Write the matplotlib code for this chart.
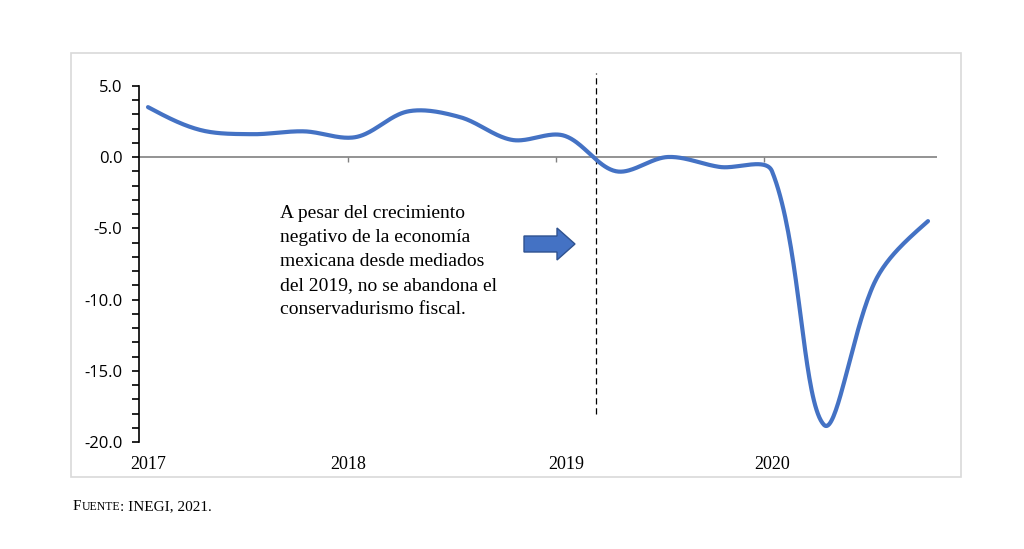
import numpy as np
import matplotlib.pyplot as plt
from matplotlib.patches import FancyArrow, Rectangle

# Crecimiento del PIB (variación anual %, trimestral)
quarters = ["2017Q1", "2017Q2", "2017Q3", "2017Q4",
            "2018Q1", "2018Q2", "2018Q3", "2018Q4",
            "2019Q1", "2019Q2", "2019Q3", "2019Q4",
            "2020Q1", "2020Q2", "2020Q3", "2020Q4"]
gdp_growth = [3.5, 1.9, 1.6, 1.8,
              1.4, 3.2, 2.8, 1.2,
              1.5, -1.0, 0.0, -0.7,
              -1.0, -18.8, -8.6, -4.5]
year_labels = ["2017", "2018", "2019", "2020"]
year_label_pos = [0, 3.85, 8.05, 12.0]
year_tick_pos = [3.85, 7.85, 11.85]
event_x = 8.62  # mediados de 2019
note = ("A pesar del crecimiento\nnegativo de la economía\nmexicana desde mediados\n"
        "del 2019, no se abandona el\nconservadurismo fiscal.")


def smooth(y, sx=52.0, sy=14.25, n=40):
    # curva suavizada tipo Excel: Bezier con tangentes escaladas por cuerda
    y = np.asarray(y, float)
    x = np.arange(len(y), dtype=float)
    P = np.column_stack([x * sx, y * sy])
    m = len(P)
    d = np.linalg.norm(np.diff(P, axis=0), axis=1)
    cin, cout = P.copy(), P.copy()
    for i in range(1, m - 1):
        T = P[i + 1] - P[i - 1]
        tot = d[i - 1] + d[i]
        cin[i] = P[i] - T * d[i - 1] / tot / 3
        cout[i] = P[i] + T * d[i] / tot / 3
    cout[0] = P[0] + (cin[1] - P[0]) / 2
    cin[-1] = P[-1] + (cout[-2] - P[-1]) / 2
    t = np.linspace(0, 1, n)[:, None]
    pts = []
    for i in range(m - 1):
        b = ((1 - t) ** 3 * P[i] + 3 * (1 - t) ** 2 * t * cout[i]
             + 3 * (1 - t) * t ** 2 * cin[i + 1] + t ** 3 * P[i + 1])
        pts.append(b)
    pts = np.vstack(pts)
    return pts[:, 0] / sx, pts[:, 1] / sy


W, H = 1024, 549
fig = plt.figure(figsize=(W / 100, H / 100), dpi=100)

# marco gris claro
fig.patches.append(Rectangle((71 / W, 1 - 477 / H), 890 / W, 424 / H,
                             transform=fig.transFigure, fill=False,
                             edgecolor="#d9d9d9", lw=1.2))

ax = fig.add_axes([139 / W, 1 - 442 / H, 798 / W, (442 - 71.5) / H])
ax.set_xlim(-9 / 52, 789 / 52)
ax.set_ylim(-20, 6)
ax.patch.set_alpha(0)

sx, sy = smooth(gdp_growth)
ax.plot(sx, sy, color="#4472C4", lw=3, solid_capstyle="round", clip_on=False, zorder=3)

ax.axhline(0, color="#808080", lw=1.2, zorder=1)
ax.vlines(year_tick_pos, -0.35, 0, color="#808080", lw=1.0)
ax.vlines(event_x, -18.0, 5.9, color="black", lw=0.9, linestyles=(0, (5, 3)))

for s in ["top", "right", "bottom"]:
    ax.spines[s].set_visible(False)
ax.spines["left"].set_bounds(-20, 5)
ax.spines["left"].set_linewidth(1.2)
ax.set_yticks(np.arange(-20, 6, 5))
ax.set_yticks(np.arange(-20, 6, 1), minor=True)
ax.set_yticklabels([f"{v:.1f}" for v in np.arange(-20, 6, 5)],
                   fontsize=12, fontfamily="Open Sans")
ax.tick_params(axis="y", which="both", length=5, width=1.2, direction="out", pad=7)

ax.set_xticks(year_label_pos)
ax.set_xticklabels(year_labels, fontsize=13, fontfamily="Liberation Serif")
ax.tick_params(axis="x", length=0, pad=10)

ax.text(2.54, -3.35, note, fontsize=14, fontfamily="Liberation Serif",
        va="top", ha="left", linespacing=1.55)

# flecha azul
fig.patches.append(FancyArrow(524 / W, 1 - 244 / H, 51 / W, 0, width=16 / H,
                              head_width=32 / H, head_length=18 / W,
                              length_includes_head=True, transform=fig.transFigure,
                              facecolor="#4472C4", edgecolor="#2F528F", lw=1))

# fuente en versalitas
fig.canvas.draw()
r = fig.canvas.get_renderer()
t1 = fig.text(73 / W, 1 - 510 / H, "F", fontsize=11, fontfamily="Liberation Serif")
w1 = t1.get_window_extent(r).width
t2 = fig.text((73 + w1) / W, 1 - 510 / H, "UENTE", fontsize=8.5, fontfamily="Liberation Serif")
w2 = t2.get_window_extent(r).width
fig.text((73 + w1 + w2) / W, 1 - 510 / H, ": INEGI, 2021.", fontsize=11,
         fontfamily="Liberation Serif")

fig.savefig("out.png", dpi=100)
